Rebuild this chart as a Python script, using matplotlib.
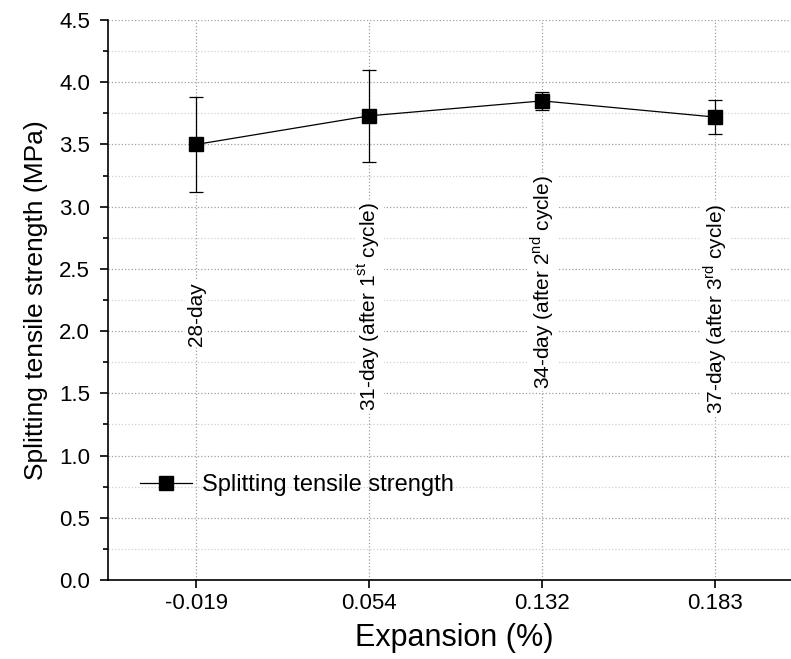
import numpy as np
import matplotlib
matplotlib.use("Agg")
import matplotlib.pyplot as plt
from matplotlib.ticker import MultipleLocator, FormatStrFormatter

plt.rcParams['font.family'] = ['Liberation Sans', 'DejaVu Sans']
plt.rcParams['mathtext.fontset'] = 'custom'
plt.rcParams['mathtext.rm'] = 'Liberation Sans'

# datos
expansion = ['-0.019', '0.054', '0.132', '0.183']
resistencia = [3.50, 3.73, 3.85, 3.72]
error = [0.38, 0.37, 0.075, 0.14]
etiquetas = ['28-day',
             '31-day (after 1$^{\\rm st}$ cycle)',
             '34-day (after 2$^{\\rm nd}$ cycle)',
             '37-day (after 3$^{\\rm rd}$ cycle)']
pos_etiquetas = [2.14, 2.20, 2.39, 2.18]

x = np.arange(len(expansion))

fig = plt.figure(figsize=(7.91, 6.59), dpi=100)
ax = fig.add_axes([108 / 791, 79 / 659, 692 / 791, 560 / 659])

# barras de error sin etiqueta, la leyenda solo muestra linea + marcador
ax.errorbar(x, resistencia, yerr=error, color='black', fmt='none',
            elinewidth=0.9, capsize=5, capthick=0.9, zorder=3)
ax.plot(x, resistencia, color='black', marker='s', markersize=10,
        linewidth=0.9, label='Splitting tensile strength', zorder=4)

for xi, texto, yi in zip(x, etiquetas, pos_etiquetas):
    ax.text(xi, yi, texto, rotation=90, ha='center', va='center', fontsize=15,
            bbox=dict(facecolor='white', edgecolor='none', pad=1), zorder=2)

ax.set_xlim(-0.51, 3.49)
ax.set_ylim(0, 4.5)
ax.set_xticks(x)
ax.set_xticklabels(expansion)
ax.yaxis.set_major_locator(MultipleLocator(0.5))
ax.yaxis.set_minor_locator(MultipleLocator(0.25))
ax.yaxis.set_major_formatter(FormatStrFormatter('%.1f'))

ax.grid(axis='y', which='major', linestyle=':', color='#a0a0a0', linewidth=0.9)
ax.grid(axis='y', which='minor', linestyle=':', color='#d0d0d0', linewidth=0.9)
ax.grid(axis='x', which='major', linestyle=':', color='#a0a0a0', linewidth=0.9)
ax.set_axisbelow(True)

ax.spines['top'].set_visible(False)
ax.spines['right'].set_visible(False)
ax.spines['left'].set_linewidth(1.2)
ax.spines['bottom'].set_linewidth(1.2)
ax.tick_params(axis='both', which='major', direction='out', length=6, width=1.2,
               labelsize=16)
ax.tick_params(axis='y', which='major', pad=7)
ax.tick_params(axis='y', which='minor', direction='out', length=3.5, width=1.2)

ax.set_xlabel('Expansion (%)', fontsize=22, labelpad=6)
ax.set_ylabel('Splitting tensile strength (MPa)', fontsize=19, labelpad=8)

ax.legend(loc='center left', bbox_to_anchor=(0.046, 0.17), frameon=False,
          fontsize=17, handlelength=2.2, handletextpad=0.45,
          borderpad=0, borderaxespad=0)

fig.savefig('out.png', dpi=100)
